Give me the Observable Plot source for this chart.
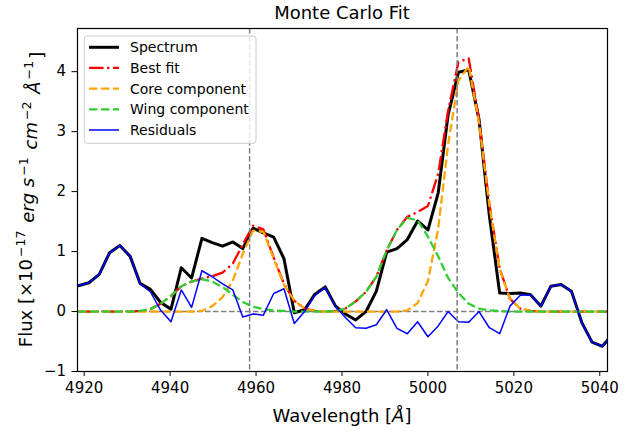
<!DOCTYPE html>
<html><head><meta charset="utf-8">
<script src="https://cdn.jsdelivr.net/npm/d3@7"></script>
<script src="https://cdn.jsdelivr.net/npm/@observablehq/plot@0.6"></script>
<style>
html,body{margin:0;padding:0;background:#fff}
svg{font-family:"DejaVu Sans",sans-serif}
</style>
</head><body><div id="chart"></div>
<script>
const wavelength = [4918.6,4921.1,4923.5,4925.9,4928.3,4930.7,4933.0,4935.4,4937.8,4940.2,
  4942.6,4945.0,4947.4,4949.8,4952.2,4954.6,4956.9,4959.3,4961.7,4964.1,
  4966.5,4968.9,4971.3,4973.7,4976.1,4978.5,4980.8,4983.2,4985.6,4988.0,
  4990.4,4992.8,4995.2,4997.6,5000.0,5002.4,5004.7,5007.1,5009.5,5011.9,
  5014.3,5016.7,5019.1,5021.5,5023.9,5026.3,5028.6,5031.0,5033.4,5035.8,
  5038.2,5040.6,5043.0];
const spectrum = [0.43,0.48,0.62,0.98,1.10,0.92,0.47,0.37,0.15,0.04,
  0.73,0.56,1.22,1.15,1.09,1.16,1.05,1.39,1.31,1.24,
  0.88,-0.02,0.03,0.29,0.41,0.09,-0.04,-0.14,0.00,0.34,
  0.99,1.05,1.20,1.51,1.36,1.98,3.28,3.99,4.03,3.20,
  1.60,0.31,0.30,0.31,0.28,0.09,0.42,0.45,0.34,-0.18,
  -0.51,-0.58,-0.38];
const bestFit = [0,0,0,0,0,0,0.01,0.04,0.13,0.26,
  0.42,0.50,0.55,0.59,0.65,0.80,1.12,1.43,1.37,0.90,
  0.46,0.18,0.05,0.01,0,0.01,0.05,0.17,0.33,0.58,
  1.02,1.36,1.58,1.66,1.76,2.30,3.35,4.16,4.22,3.20,
  1.80,0.72,0.21,0.05,0.01,0,0,0,0,0,
  0,0,0];
const coreComponent = [0,0,0,0,0,0,0,0,0,0,
  0,0,0.01,0.09,0.24,0.52,0.96,1.35,1.33,0.88,
  0.45,0.18,0.05,0.01,0,0,0,0,0,0,
  0,0,0.02,0.14,0.51,1.38,2.79,3.85,4.09,3.15,
  1.78,0.71,0.21,0.05,0.01,0,0,0,0,0,
  0,0,0];
const wingComponent = [0,0,0,0,0,0,0.01,0.04,0.13,0.26,
  0.42,0.50,0.54,0.50,0.41,0.28,0.16,0.08,0.04,0.02,
  0.01,0,0,0,0,0.01,0.05,0.17,0.33,0.58,
  1.02,1.36,1.56,1.52,1.25,0.92,0.56,0.31,0.13,0.05,
  0.02,0.01,0,0,0,0,0,0,0,0,
  0,0,0];
const residuals = [0.43,0.48,0.62,0.98,1.10,0.92,0.46,0.33,0.02,-0.17,
  0.36,0.07,0.68,0.58,0.46,0.36,-0.09,-0.04,-0.06,0.30,
  0.38,-0.20,0.00,0.27,0.40,0.08,-0.10,-0.27,-0.28,-0.22,
  0.03,-0.28,-0.37,-0.17,-0.42,-0.24,0.00,-0.17,-0.18,0.00,
  -0.27,-0.37,0.09,0.27,0.28,0.09,0.42,0.45,0.34,-0.18,
  -0.51,-0.58,-0.38];
const lineCenters = [4958.5, 5006.8];
const xTicks = [4920,4940,4960,4980,5000,5020,5040];
const yTicks = [-1,0,1,2,3,4];
const seriesNames = ["Spectrum","Best fit","Core component","Wing component","Residuals"];
const seriesColors = ["black","red","orange","limegreen","blue"];
const seriesWidths = [3,2.3,2.3,2.3,1.5];
const seriesDash = [null,"14.5,3.6,2.3,3.6","8.4,3.6","8.4,3.6",null];
const seriesKeys = ["spectrum","fit","core","wing","resid"];

const rows = wavelength.map((w,i)=>({w, spectrum:spectrum[i], fit:bestFit[i], core:coreComponent[i], wing:wingComponent[i], resid:residuals[i]}));

const W = 635, H = 433, mL = 77, mR = 28, mT = 28, mB = 62;
const lineMarks = seriesKeys.map((k,i)=>Plot.line(rows, {x:"w", y:k, stroke:seriesColors[i], strokeWidth:seriesWidths[i], strokeDasharray:seriesDash[i] || undefined, clip:true, strokeLinejoin:"round", strokeLinecap: seriesDash[i] ? "butt" : "round"}));

const plot = Plot.plot({
  width: W, height: H,
  marginLeft: mL, marginRight: mR, marginTop: mT, marginBottom: mB,
  style: {fontFamily:"DejaVu Sans", fontSize:"15px", color:"black", background:"white"},
  x: {domain:[4918.44, 5041.8], ticks:xTicks, tickFormat:d=>String(d), label:null, tickSize:5, tickPadding:6},
  y: {domain:[-1, 4.72], ticks:yTicks, tickFormat:d=>d<0?"\u2212"+Math.abs(d):String(d), label:null, tickSize:5.5, tickPadding:6},
  marks: [
    Plot.ruleY([0], {stroke:"gray", strokeWidth:1.5, strokeDasharray:"5.6,2.4"}),
    ...lineMarks,
    Plot.ruleX(lineCenters, {stroke:"gray", strokeWidth:1.5, strokeDasharray:"5.6,2.4"}),
    Plot.frame({stroke:"black", strokeWidth:1.2})
  ]
});
document.getElementById("chart").appendChild(plot);

const svg = d3.select(plot);
const cx = mL + (W - mL - mR)/2;
svg.append("text").attr("x", cx).attr("y", 19).attr("text-anchor","middle")
  .attr("font-size","18px").attr("fill","black").text("Monte Carlo Fit");

const xl = svg.append("text").attr("x", cx).attr("y", 421.5).attr("text-anchor","middle")
  .attr("font-size","18px").attr("fill","black");
xl.append("tspan").text("Wavelength [");
xl.append("tspan").attr("font-style","italic").text("Å");
xl.append("tspan").text("]");

const cy = mT + (H - mT - mB)/2;
const yl = svg.append("text").attr("transform", `translate(31.5,${cy}) rotate(-90)`)
  .attr("text-anchor","middle").attr("font-size","18px").attr("fill","black");
const parts = [
  ["Flux [×10", false, false],
  ["\u221217", false, true],
  [" erg", true, false],
  [" s", true, false],
  ["\u22121", false, true],
  [" cm", true, false],
  ["\u22122", false, true],
  [" Å", true, false],
  ["\u22121", false, true],
  ["]", false, false]
];
let up = false;
parts.forEach(([t, it, sup]) => {
  const ts = yl.append("tspan").text(t);
  if (it) ts.attr("font-style","italic");
  if (sup && !up) { ts.attr("dy","-0.55em").attr("font-size","12.6px").attr("dx","2"); up = true; }
  else if (!sup && up) { ts.attr("dy","0.55em").attr("dx","2"); up = false; }
  else if (sup) ts.attr("font-size","12.6px");
});

// legend
const lg = svg.append("g").attr("text-anchor","start");
lg.append("rect").attr("x",84.3).attr("y",36).attr("width",171.7).attr("height",107.3)
  .attr("rx",3).attr("fill","white").attr("fill-opacity",0.8).attr("stroke","#cccccc").attr("stroke-width",1);
seriesNames.forEach((name,i)=>{
  const y = 47.3 + i*20.67;
  const ln = lg.append("line").attr("x1",89).attr("x2",119).attr("y1",y).attr("y2",y)
    .attr("stroke",seriesColors[i]).attr("stroke-width",seriesWidths[i]);
  if (seriesDash[i]) ln.attr("stroke-dasharray",seriesDash[i]);
  lg.append("text").attr("x",130).attr("y",y+5).attr("text-anchor","start")
    .attr("font-size","14px").attr("fill","black").text(name);
});
</script>
</body></html>
